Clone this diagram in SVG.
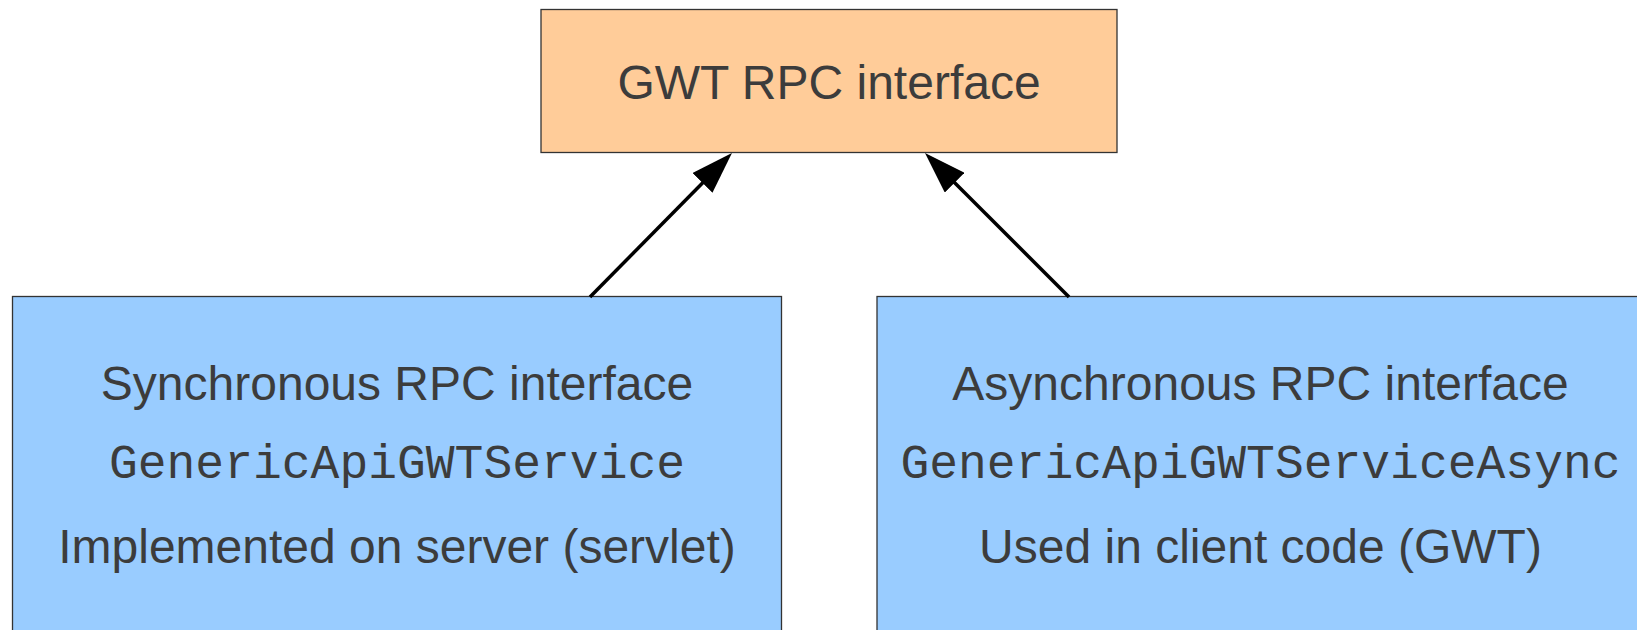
<svg xmlns="http://www.w3.org/2000/svg" width="1637" height="630" viewBox="0 0 1637 630">
<defs>
<style>
.box{stroke:#333333;stroke-width:1.3}
.orange{fill:#ffcc99}
.blue{fill:#99ccff}
.t{font-family:"Liberation Sans",Arial,sans-serif;font-size:48px;fill:#3c3c3c;text-anchor:middle}
.m{font-family:"Liberation Mono","Courier New",monospace;font-size:48px;fill:#3c3c3c;text-anchor:middle}
.conn{stroke:#000000;stroke-width:3.5;fill:none}
</style>
<marker id="arrow" markerUnits="userSpaceOnUse" markerWidth="42" markerHeight="28" refX="12" refY="14" orient="auto" viewBox="0 0 42 28">
<path d="M0,0 L42,14 L0,28 z" fill="#000000"/>
</marker>
</defs>
<rect width="1637" height="630" fill="#ffffff"/>
<g id="node-gwt-rpc">
<rect class="box orange" x="541" y="9.5" width="576" height="143"/>
<text class="t" x="829" y="99">GWT RPC interface</text>
</g>
<g id="node-sync">
<rect class="box blue" x="12.5" y="296.5" width="769" height="400"/>
<text class="t" x="397" y="400">Synchronous RPC interface</text>
<text class="m" x="397" y="478">GenericApiGWTService</text>
<text class="t" x="397" y="563">Implemented on server (servlet)</text>
</g>
<g id="node-async">
<rect class="box blue" x="877" y="296.5" width="767" height="400"/>
<text class="t" x="1260.5" y="400">Asynchronous RPC interface</text>
<text class="m" x="1260.5" y="478">GenericApiGWTServiceAsync</text>
<text class="t" x="1260.5" y="563">Used in client code (GWT)</text>
</g>
<g id="connectors">
<line class="conn" x1="590" y1="297" x2="710.9" y2="174.4" marker-end="url(#arrow)"/>
<line class="conn" x1="1069" y1="297" x2="946.2" y2="174.2" marker-end="url(#arrow)"/>
</g>
</svg>
